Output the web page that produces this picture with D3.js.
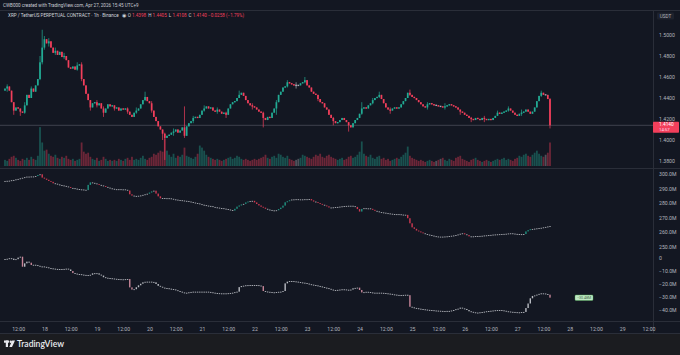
<!DOCTYPE html>
<html>
<head>
<meta charset="utf-8">
<script src="https://cdn.jsdelivr.net/npm/d3@7"></script>
<style>
  html, body { margin: 0; padding: 0; background: #131722; }
  svg { display: block; font-family: Roboto, "Noto Sans", sans-serif; }
</style>
</head>
<body>
<div id="chart"></div>
<script>
// Hourly candles, XRP/USDT perp, Apr 17 06:00 -> Apr 27 15:00 (UTC+9 shown as UTC here)
const startTime = Date.UTC(2026, 3, 17, 6);
const firstOpen = 1.447;

const closes = [
  1.449, 1.451, 1.447, 1.436, 1.428, 1.431, 1.430, 1.427, 1.426, 1.433,
  1.443, 1.440, 1.449, 1.446, 1.452, 1.458, 1.474, 1.488, 1.496, 1.492,
  1.494, 1.488, 1.483, 1.485, 1.481, 1.484, 1.479, 1.480, 1.476, 1.469,
  1.468, 1.470, 1.467, 1.471, 1.472, 1.458, 1.452, 1.444, 1.438, 1.431,
  1.435, 1.436, 1.433, 1.435, 1.430, 1.426, 1.430, 1.434, 1.432, 1.433,
  1.430, 1.431, 1.428, 1.430, 1.429, 1.430, 1.427, 1.424, 1.422, 1.426,
  1.428, 1.430, 1.434, 1.438, 1.441, 1.437, 1.435, 1.428, 1.422, 1.418,
  1.413, 1.410, 1.406, 1.402, 1.404, 1.405, 1.407, 1.408, 1.410, 1.407,
  1.409, 1.412, 1.404, 1.413, 1.416, 1.418, 1.421, 1.422, 1.421, 1.424,
  1.428, 1.430, 1.432, 1.430, 1.431, 1.428, 1.427, 1.429, 1.427, 1.425,
  1.426, 1.424, 1.430, 1.434, 1.436, 1.437, 1.440, 1.443, 1.445, 1.442,
  1.438, 1.435, 1.433, 1.432, 1.431, 1.429, 1.427, 1.426, 1.421, 1.419,
  1.422, 1.421, 1.426, 1.430, 1.436, 1.443, 1.446, 1.450, 1.451, 1.455,
  1.454, 1.453, 1.452, 1.452, 1.452, 1.454, 1.455, 1.457, 1.452, 1.450,
  1.446, 1.444, 1.443, 1.439, 1.436, 1.435, 1.431, 1.429, 1.424, 1.421,
  1.418, 1.416, 1.417, 1.419, 1.421, 1.419, 1.417, 1.414, 1.412, 1.416,
  1.419, 1.421, 1.425, 1.430, 1.431, 1.430, 1.433, 1.435, 1.438, 1.440,
  1.441, 1.443, 1.439, 1.435, 1.431, 1.429, 1.428, 1.430, 1.431, 1.430,
  1.431, 1.434, 1.437, 1.440, 1.445, 1.443, 1.441, 1.440, 1.438, 1.436,
  1.434, 1.432, 1.431, 1.434, 1.435, 1.434, 1.433, 1.433, 1.432, 1.432,
  1.431, 1.432, 1.433, 1.434, 1.433, 1.432, 1.431, 1.429, 1.427, 1.426,
  1.424, 1.423, 1.421, 1.420, 1.419, 1.421, 1.420, 1.419, 1.421, 1.420,
  1.419, 1.420, 1.419, 1.421, 1.423, 1.426, 1.425, 1.426, 1.427, 1.428,
  1.430, 1.428, 1.426, 1.424, 1.423, 1.425, 1.426, 1.427, 1.429, 1.427,
  1.425, 1.427, 1.431, 1.437, 1.442, 1.445, 1.443, 1.443, 1.439, 1.414
];

// visible wicks: [candle index, high, low]
const wicks = [
  [1, 1.453, 1.446], [4, 1.431, 1.424], [7, 1.430, 1.423], [9, 1.436, 1.425], [12, 1.451, 1.441],
  [16, 1.480, 1.457], [17, 1.505, 1.472], [18, 1.499, 1.486], [20, 1.497, 1.489],
  [23, 1.488, 1.481], [27, 1.483, 1.477], [33, 1.474, 1.466], [35, 1.474, 1.456],
  [39, 1.438, 1.428], [42, 1.438, 1.431], [45, 1.432, 1.422], [50, 1.433, 1.428],
  [56, 1.431, 1.425], [60, 1.431, 1.425], [64, 1.446, 1.437], [67, 1.437, 1.426],
  [72, 1.410, 1.400], [73, 1.407, 1.381], [77, 1.411, 1.404], [82, 1.432, 1.402],
  [86, 1.423, 1.416], [91, 1.433, 1.427], [97, 1.431, 1.425], [101, 1.427, 1.421],
  [107, 1.447, 1.440], [113, 1.435, 1.429], [118, 1.427, 1.412], [124, 1.438, 1.424],
  [129, 1.457, 1.450], [133, 1.455, 1.449], [137, 1.460, 1.454], [143, 1.443, 1.437],
  [150, 1.422, 1.414], [157, 1.417, 1.408], [163, 1.436, 1.424], [168, 1.440, 1.434],
  [171, 1.446, 1.440], [176, 1.431, 1.425], [185, 1.448, 1.442], [193, 1.436, 1.429],
  [201, 1.435, 1.429], [208, 1.429, 1.424], [213, 1.422, 1.417], [219, 1.423, 1.417],
  [225, 1.428, 1.423], [230, 1.432, 1.427], [236, 1.429, 1.423],
  [245, 1.447, 1.441], [249, 1.440, 1.411]
];

const volumes = [
  12, 10, 14, 18, 20, 16, 12, 10, 14, 12,
  16, 12, 18, 14, 12, 20, 76, 46, 30, 32,
  24, 20, 18, 22, 16, 14, 18, 16, 20, 14,
  12, 14, 10, 12, 14, 46, 28, 24, 26, 18,
  14, 12, 16, 10, 12, 18, 14, 10, 12, 10,
  12, 10, 14, 12, 10, 14, 16, 12, 18, 12,
  14, 12, 16, 20, 14, 12, 16, 18, 24, 22,
  26, 30, 28, 54, 30, 22, 18, 24, 16, 20,
  18, 22, 36, 20, 18, 16, 14, 18, 24, 40,
  36, 30, 22, 18, 16, 14, 12, 14, 12, 10,
  12, 14, 16, 18, 14, 16, 20, 18, 14, 12,
  14, 12, 10, 12, 14, 12, 14, 16, 18, 22,
  16, 14, 18, 20, 16, 24, 22, 18, 16, 20,
  14, 12, 10, 12, 14, 16, 22, 20, 18, 16,
  14, 18, 22, 20, 24, 18, 16, 20, 22, 18,
  16, 14, 12, 14, 16, 12, 14, 18, 20, 16,
  18, 22, 28, 48, 24, 20, 18, 22, 16, 14,
  18, 20, 14, 16, 12, 14, 10, 12, 14, 16,
  14, 18, 22, 26, 38, 20, 16, 14, 12, 10,
  12, 10, 8, 10, 12, 10, 8, 10, 12, 14,
  16, 12, 10, 14, 12, 10, 16, 18, 20, 14,
  12, 10, 8, 12, 14, 16, 12, 10, 8, 10,
  12, 10, 8, 10, 12, 14, 12, 14, 16, 12,
  14, 12, 10, 14, 16, 20, 18, 22, 24, 20,
  18, 22, 26, 30, 24, 20, 18, 22, 26, 46
];

// open interest (M)
const openInterest = [
  295.2, 295.3, 295.4, 295.7, 295.9, 296.3, 296.6, 297.0, 297.4, 297.8,
  298.2, 298.0, 298.3, 298.2, 298.6, 299.3, 299.8, 297.5, 296.8, 296.0,
  295.2, 294.6, 293.6, 293.3, 292.8, 292.4, 292.1, 291.8, 291.4, 291.0,
  290.4, 290.2, 289.9, 289.6, 289.4, 289.3, 289.1, 288.9, 292.5, 294.2,
  293.9, 293.5, 293.1, 292.5, 292.1, 291.7, 291.1, 290.6, 290.1, 289.8,
  289.5, 289.4, 289.5, 289.3, 289.4, 289.1, 288.6, 286.0, 285.1, 284.8,
  284.9, 285.0, 285.2, 285.6, 286.0, 286.4, 287.2, 288.0, 288.5, 286.5,
  284.6, 283.2, 283.4, 283.1, 283.3, 283.2, 282.9, 282.5, 282.3, 282.0,
  281.9, 281.7, 281.5, 281.3, 281.0, 280.7, 280.3, 280.0, 279.7, 279.2,
  278.8, 278.5, 278.2, 278.0, 277.8, 277.3, 277.0, 276.8, 276.5, 276.4,
  276.1, 275.8, 275.5, 275.1, 274.8, 276.0, 277.5, 278.3, 279.0, 279.4,
  280.4, 281.0, 281.4, 281.5, 280.4, 279.3, 278.3, 277.4, 276.8, 276.0,
  275.5, 275.2, 274.9, 274.7, 275.0, 275.8, 276.8, 278.2, 280.5, 281.2,
  281.9, 282.4, 282.5, 282.6, 282.5, 282.5, 282.4, 282.6, 282.5, 282.7,
  281.8, 281.0, 280.6, 280.0, 279.4, 278.8, 278.3, 277.7, 276.9, 276.6,
  277.0, 277.2, 277.3, 277.5, 277.7, 277.9, 278.0, 278.1, 278.1, 277.8,
  277.3, 275.8, 274.1, 275.9, 276.4, 276.3, 276.3, 276.0, 275.3, 274.6,
  274.2, 273.7, 273.5, 273.3, 273.0, 272.8, 272.6, 272.4, 272.3, 272.3,
  272.2, 272.0, 271.9, 271.8, 269.5, 266.0, 263.2, 262.2, 261.0, 260.4,
  259.7, 259.1, 258.6, 258.2, 257.9, 257.5, 257.1, 256.9, 256.8, 256.8,
  256.8, 256.9, 257.0, 257.2, 257.4, 257.6, 257.9, 258.3, 258.8, 259.1,
  258.4, 257.9, 257.0, 256.8, 257.0, 257.2, 257.2, 257.3, 257.4, 257.6,
  257.7, 257.9, 258.0, 258.2, 258.3, 258.4, 258.5, 258.6, 258.7, 258.8,
  259.0, 259.1, 258.9, 258.7, 258.6, 258.5, 258.4, 258.6, 260.4, 261.3,
  261.9, 262.1, 262.3, 262.5, 262.7, 262.9, 263.2, 263.5, 263.8, 264.1
];

// cumulative volume delta (M)
const cvd = [
  -0.8, -0.6, -0.2, -0.5, -1.5, -0.9, 0.3, 1.0, -6.7, -4.1,
  -2.8, -3.6, -5.4, -5.2, -5.5, -6.0, -6.7, -6.5, -6.8, -7.2,
  -7.7, -8.0, -8.2, -8.4, -8.5, -8.6, -8.5, -8.4, -8.2, -8.8,
  -10.0, -11.6, -12.0, -12.3, -12.5, -12.8, -13.0, -13.1, -13.1, -12.9,
  -11.8, -11.7, -11.8, -12.8, -13.5, -14.8, -15.2, -15.4, -15.6, -15.8,
  -16.0, -16.2, -16.3, -16.4, -16.4, -16.3, -16.2, -22.6, -24.3, -24.0,
  -22.5, -21.0, -19.8, -18.7, -18.3, -18.2, -18.2, -18.4, -18.7, -20.0,
  -21.4, -22.1, -22.8, -23.1, -23.3, -23.6, -23.9, -24.2, -24.8, -25.4,
  -25.9, -26.5, -26.7, -26.7, -26.4, -26.1, -25.9, -25.9, -25.9, -25.9,
  -25.9, -26.0, -25.9, -26.1, -26.4, -26.7, -26.9, -27.1, -27.2, -27.2,
  -27.2, -27.2, -27.1, -26.9, -26.7, -26.3, -25.9, -22.4, -21.6, -21.3,
  -21.0, -20.9, -20.8, -20.8, -20.8, -20.9, -21.2, -21.6, -25.4, -25.8,
  -26.0, -26.2, -26.4, -26.4, -26.2, -26.0, -25.9, -25.4, -19.5, -18.2,
  -17.7, -17.8, -18.0, -18.2, -18.5, -18.8, -19.0, -19.3, -19.7, -20.2,
  -20.5, -20.8, -21.1, -21.5, -21.9, -22.4, -22.8, -23.2, -23.7, -24.3,
  -24.6, -24.6, -24.5, -24.3, -24.1, -24.2, -24.4, -24.6, -24.3, -23.3,
  -23.0, -22.8, -24.6, -26.5, -26.3, -26.0, -26.2, -26.5, -26.7, -26.7,
  -26.7, -26.7, -26.8, -27.0, -27.2, -27.4, -27.6, -28.0, -28.2, -28.4,
  -28.5, -28.5, -28.4, -28.3, -28.6, -37.5, -38.0, -38.4, -38.7, -39.0,
  -39.3, -39.5, -39.7, -39.9, -40.0, -40.2, -40.4, -40.5, -40.6, -40.7,
  -40.8, -40.8, -40.7, -40.7, -40.4, -40.0, -39.4, -39.0, -38.2, -38.8,
  -39.2, -40.0, -41.0, -41.4, -41.8, -42.1, -42.0, -41.8, -41.6, -41.3,
  -41.0, -40.8, -40.6, -40.4, -40.2, -40.1, -40.0, -40.3, -40.6, -41.0,
  -41.2, -41.4, -41.5, -41.7, -41.8, -41.8, -41.6, -41.5, -38.5, -35.0,
  -31.0, -29.2, -28.8, -28.2, -27.6, -27.2, -27.3, -27.7, -28.2, -30.5
];

const priceTicks = [1.50, 1.48, 1.46, 1.44, 1.42, 1.40, 1.38];
const oiTicks = [300, 290, 280, 270, 260, 250];
const cvdTicks = [0, -10, -20, -30, -40];
const lastPrice = 1.4140;
const countdown = "14:57";
const headerTitle = "CWB000 created with TradingView.com, Apr 27, 2026 15:45 UTC+9";
const symbolTitle = "XRP / TetherUS PERPETUAL CONTRACT · 1h · Binance";
const ohlcLegend = [["O", "1.4398"], ["H", "1.4405"], ["L", "1.4108"], ["C", "1.4140"], ["", "−0.0258 (−1.79%)"]];

// ---------------------------------------------------------------
const W = 680, H = 355;
const axisX = 653;
const bg = "#131722", lineCol = "#2a2e39", textCol = "#b2b5be";
const upCol = "#22ab94", downCol = "#f23f5b", flatCol = "#a7a9b2";

const svg = d3.select("#chart").append("svg")
  .attr("width", W).attr("height", H)
  .attr("viewBox", `0 0 ${W} ${H}`);

svg.append("rect").attr("width", W).attr("height", H).attr("fill", bg);

// scales
const hour = 3600e3;
const times = closes.map((d, i) => new Date(startTime + i * hour));
const x = d3.scaleUtc()
  .domain([times[0], times[times.length - 1]])
  .range([5, 550]);
const yPrice = d3.scaleLinear().domain([1.38, 1.50]).range([161, 35]);
const yVol = d3.scaleLinear().domain([0, 90]).range([166, 120]);
const yOI = d3.scaleLinear().domain([250, 300]).range([246.5, 174]);
const yCvd = d3.scaleLinear().domain([-40, 0]).range([310, 258]);

// pane separators and frame
const frame = svg.append("g").attr("stroke", lineCol).attr("stroke-width", 1);
frame.append("line").attr("x1", 0).attr("x2", W).attr("y1", 10.5).attr("y2", 10.5);
frame.append("line").attr("x1", 0).attr("x2", W).attr("y1", 168.5).attr("y2", 168.5);
frame.append("line").attr("x1", 0).attr("x2", W).attr("y1", 321.5).attr("y2", 321.5);
frame.append("line").attr("x1", axisX + 0.5).attr("x2", axisX + 0.5).attr("y1", 10).attr("y2", 333);

// ---------- price pane ----------
const candles = closes.map((c, i) => {
  const o = i === 0 ? firstOpen : closes[i - 1];
  return { t: times[i], o, c, h: Math.max(o, c), l: Math.min(o, c), v: volumes[i] };
});
wicks.forEach(([i, h, l]) => { candles[i].h = Math.max(h, candles[i].h); candles[i].l = Math.min(l, candles[i].l); });

const candleColor = d => Math.abs(d.c - d.o) < 0.0008 ? flatCol : (d.c >= d.o ? upCol : downCol);

// volume
svg.append("g").selectAll("rect").data(candles).join("rect")
  .attr("x", d => x(d.t) - 0.9)
  .attr("width", 1.8)
  .attr("y", d => yVol(d.v))
  .attr("height", d => yVol(0) - yVol(d.v))
  .attr("fill", candleColor)
  .attr("fill-opacity", 0.4);

// last price line
svg.append("line")
  .attr("x1", 0).attr("x2", axisX)
  .attr("y1", yPrice(lastPrice)).attr("y2", yPrice(lastPrice))
  .attr("stroke", "#8c8f99").attr("stroke-opacity", 0.6)
  .attr("stroke-width", 0.6);

const cg = svg.append("g");
cg.selectAll("line").data(candles).join("line")
  .attr("x1", d => x(d.t)).attr("x2", d => x(d.t))
  .attr("y1", d => yPrice(d.h)).attr("y2", d => yPrice(d.l))
  .attr("stroke", candleColor).attr("stroke-width", 0.7);
cg.selectAll("rect").data(candles).join("rect")
  .attr("x", d => x(d.t) - 0.85)
  .attr("width", 1.7)
  .attr("y", d => Math.min(yPrice(Math.max(d.o, d.c)), yPrice((d.o + d.c) / 2) - 0.7))
  .attr("height", d => Math.max(1.4, Math.abs(yPrice(d.o) - yPrice(d.c))))
  .attr("fill", candleColor);

// ---------- small candle panes (OI, CVD) ----------
function stepCandles(values) {
  return values.map((v, i) => ({ t: times[i], o: i === 0 ? v : values[i - 1], c: v }));
}
const oiData = stepCandles(openInterest);
const oiColor = d => d.c - d.o > 0.5 ? upCol : (d.c - d.o < -0.5 ? downCol : "#c9cbd1");
svg.append("g").selectAll("rect").data(oiData).join("rect")
  .attr("x", d => x(d.t) - 0.7).attr("width", 1.4)
  .attr("y", d => yOI(Math.max(d.o, d.c)))
  .attr("height", d => Math.max(0.9, Math.abs(yOI(d.o) - yOI(d.c))))
  .attr("fill", oiColor).attr("fill-opacity", 0.85);

const cvdData = stepCandles(cvd);
const cvdColor = d => d.c - d.o < -1.5 ? "#e79aae" : "#d6d8de";
svg.append("g").selectAll("rect").data(cvdData).join("rect")
  .attr("x", d => x(d.t) - 0.7).attr("width", 1.4)
  .attr("y", d => yCvd(Math.max(d.o, d.c)))
  .attr("height", d => Math.max(0.9, Math.abs(yCvd(d.o) - yCvd(d.c))))
  .attr("fill", cvdColor).attr("fill-opacity", 0.85);

// small green note in CVD pane
const note = svg.append("g").attr("transform", "translate(575,295)");
note.append("rect").attr("width", 18).attr("height", 5.5).attr("rx", 1)
  .attr("fill", "#bfe8c4").attr("stroke", "#4caf50").attr("stroke-width", 0.4);
note.append("text").attr("x", 9).attr("y", 4.1).attr("text-anchor", "middle")
  .attr("font-size", 3.6).attr("fill", "#3d6b45").text("−30.48M");

// ---------- right axes ----------
function rightAxis(scale, ticks, fmt) {
  const g = svg.append("g").attr("transform", `translate(${axisX},0)`)
    .call(d3.axisRight(scale).tickValues(ticks).tickSize(0).tickPadding(6).tickFormat(fmt));
  g.select(".domain").remove();
  g.selectAll("text").attr("fill", textCol).attr("font-size", 5.2).attr("font-family", "Roboto, sans-serif");
  return g;
}
rightAxis(yPrice, priceTicks, d3.format(".4f"));
rightAxis(yOI, oiTicks, d => d + ".0M");
rightAxis(yCvd, cvdTicks, d => d === 0 ? "0" : (d < 0 ? "−" : "") + Math.abs(d) + ".0M");

// USDT unit label
svg.append("rect").attr("x", 657).attr("y", 12.5).attr("width", 17).attr("height", 7)
  .attr("fill", "#1e222d").attr("rx", 1);
svg.append("text").attr("x", 665.5).attr("y", 17.8).attr("text-anchor", "middle")
  .attr("font-size", 4.6).attr("fill", textCol).text("USDT");

// current price tag
const tag = svg.append("g").attr("transform", `translate(${axisX},${yPrice(lastPrice) - 3.5})`);
tag.append("rect").attr("width", 26).attr("height", 11).attr("fill", downCol).attr("rx", 0.8);
tag.append("text").attr("x", 6).attr("y", 4.7).attr("font-size", 4.8).attr("fill", "#fff")
  .text(d3.format(".4f")(lastPrice));
tag.append("text").attr("x", 6).attr("y", 9.4).attr("font-size", 4.3).attr("fill", "#fde")
  .text(countdown);

// ---------- time axis ----------
const timeTicks = d3.utcHour.every(12).range(new Date(Date.UTC(2026, 3, 17, 12)), new Date(Date.UTC(2026, 3, 29, 13)));
const xg = svg.append("g").attr("transform", "translate(0,322)")
  .call(d3.axisBottom(x).tickValues(timeTicks).tickSize(0).tickPadding(5)
    .tickFormat(d => d.getUTCHours() === 0 ? d3.utcFormat("%-d")(d) : d3.utcFormat("%H:%M")(d)));
xg.select(".domain").remove();
xg.selectAll("text").attr("fill", textCol).attr("font-size", 5.2).attr("font-family", "Roboto, sans-serif");
svg.append("line").attr("x1", 0).attr("x2", W).attr("y1", 333.5).attr("y2", 333.5).attr("stroke", lineCol);

// ---------- header ----------
svg.append("text").attr("x", 3).attr("y", 6.8).attr("font-size", 4.6).attr("fill", "#c9ccd4").text(headerTitle);
const legend = svg.append("text").attr("x", 8).attr("y", 17).attr("font-size", 4.6).attr("fill", "#d1d4dc");
legend.append("tspan").text(symbolTitle);
legend.append("tspan").attr("dx", 3).attr("fill", "#d1d4dc").text("◉");
ohlcLegend.forEach(([k, v]) => {
  if (k) legend.append("tspan").attr("dx", 2).attr("fill", "#d1d4dc").text(k);
  legend.append("tspan").attr("dx", 1.2).attr("fill", downCol).text(v);
});

// ---------- footer ----------
svg.append("rect").attr("x", 0).attr("y", 334).attr("width", W).attr("height", H - 334).attr("fill", "#1b1c20");
const logo = svg.append("g").attr("fill", "#e9eaee").attr("transform", "translate(4,340.5)");
logo.append("rect").attr("x", 0).attr("y", 0).attr("width", 5).attr("height", 2.2);
logo.append("rect").attr("x", 1.8).attr("y", 0).attr("width", 2.2).attr("height", 6.5);
logo.append("circle").attr("cx", 6.8).attr("cy", 1.2).attr("r", 1.2);
logo.append("path").attr("d", "M8.2,0 L11,0 L8,6.5 L5.3,6.5 Z");
svg.append("text").attr("x", 17).attr("y", 347).attr("font-size", 8.6).attr("font-weight", 600)
  .attr("fill", "#e9eaee").attr("font-family", "Lato, Roboto, sans-serif").text("TradingView");
</script>
</body>
</html>
